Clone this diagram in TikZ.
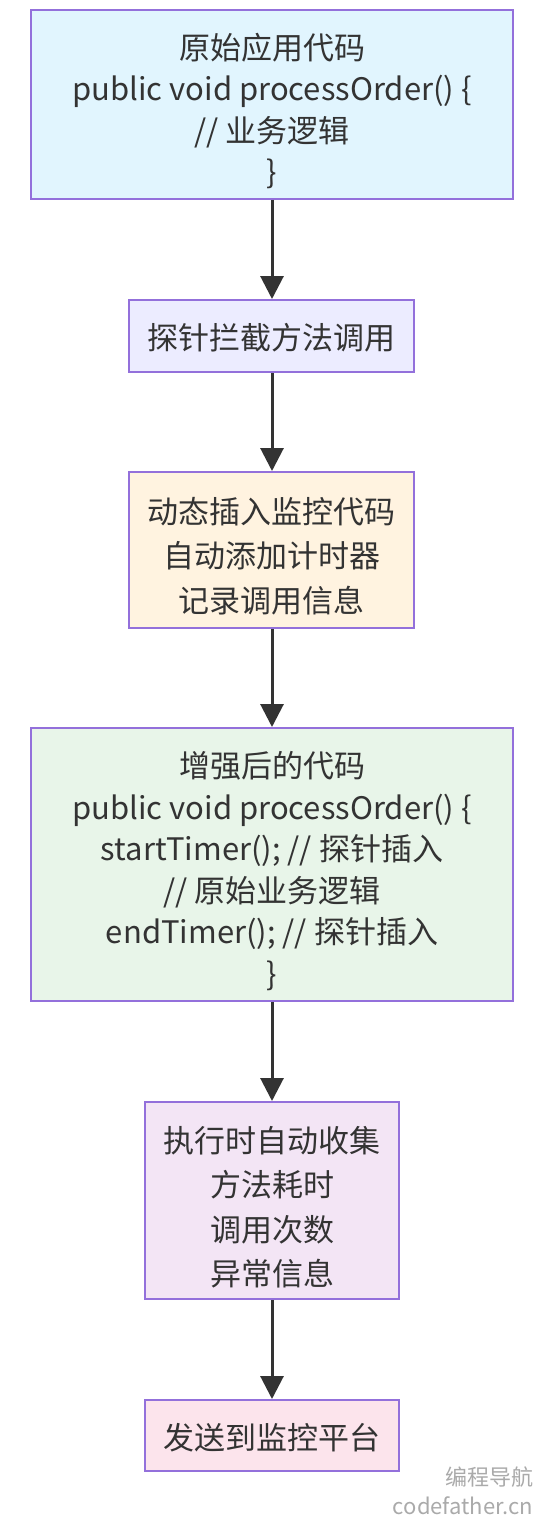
\documentclass[tikz,border=0pt]{standalone}
\usepackage{fontspec}
\setmainfont{Noto Sans CJK SC}
\usetikzlibrary{arrows.meta}
\definecolor{txt}{HTML}{333333}
\definecolor{bord}{HTML}{9370DB}
\definecolor{fblue}{HTML}{E1F5FE}
\definecolor{flav}{HTML}{ECECFF}
\definecolor{forange}{HTML}{FFF3E0}
\definecolor{fgreen}{HTML}{E8F5E9}
\definecolor{fpurple}{HTML}{F3E5F5}
\definecolor{fpink}{HTML}{FCE4EC}
\definecolor{wm}{HTML}{AAAAAA}
\tikzset{
  box/.style={draw=bord, line width=2pt, inner sep=0pt},
  codetext/.style={text=txt, align=center, inner sep=0pt,
    font=\fontsize{31}{41.5}\selectfont},
  cntext/.style={text=txt, align=center, inner sep=0pt,
    font=\fontsize{31}{44.5}\selectfont},
  flow/.style={draw=txt, line width=3pt, -{Triangle[length=23pt,width=23pt]}},
  wmark/.style={text=wm, inner sep=0pt, font=\fontsize{22}{22}\selectfont}
}
\begin{document}
\begin{tikzpicture}[x=1pt,y=-1pt]
\useasboundingbox (0,0) rectangle (544,1530);
\fill[white] (0,0) rectangle (544,1530);
\node[box, fill=fblue, minimum width=482pt, minimum height=189pt] (a) at (272,104.5) {};
\node[codetext, yshift=-6.5pt] (at) at (a.center)
  {原始应用代码\\public void processOrder() \{\\// 业务逻辑\\\}};
\node[box, fill=flav, minimum width=285pt, minimum height=72pt] (b) at (271.5,336) {};
\node[cntext, yshift=-1.5pt] (bt) at (b.center) {探针拦截方法调用};
\node[box, fill=forange, minimum width=285pt, minimum height=156pt] (c) at (271.5,550) {};
\node[cntext, yshift=-6pt] (ct) at (c.center)
  {动态插入监控代码\\自动添加计时器\\记录调用信息};
\node[box, fill=fgreen, minimum width=482pt, minimum height=273pt] (d) at (272,864.5) {};
\node[codetext, yshift=-6.5pt] (dt) at (d.center)
  {增强后的代码\\public void processOrder() \{\\startTimer(); // 探针插入\\// 原始业务逻辑\\endTimer(); // 探针插入\\\}};
\node[box, fill=fpurple, minimum width=254pt, minimum height=197pt] (e) at (272,1200.5) {};
\node[cntext, yshift=-6.5pt] (et) at (e.center)
  {执行时自动收集\\方法耗时\\调用次数\\异常信息};
\node[box, fill=fpink, minimum width=254pt, minimum height=71pt] (f) at (272,1435.5) {};
\node[cntext, yshift=-2pt] (ft) at (f.center) {发送到监控平台};
\draw[flow] (a.south -| 272,0) -- (b.north -| 272,0);
\draw[flow] (b.south -| 272,0) -- (c.north -| 272,0);
\draw[flow] (c.south -| 272,0) -- (d.north -| 272,0);
\draw[flow] (d.south) -- (e.north);
\draw[flow] (e.south) -- (f.north);
\node[wmark] (w1) at (489,1477) {编程导航};
\node[wmark] (w2) at (463,1506) {codefather.cn};
\end{tikzpicture}
\end{document}
